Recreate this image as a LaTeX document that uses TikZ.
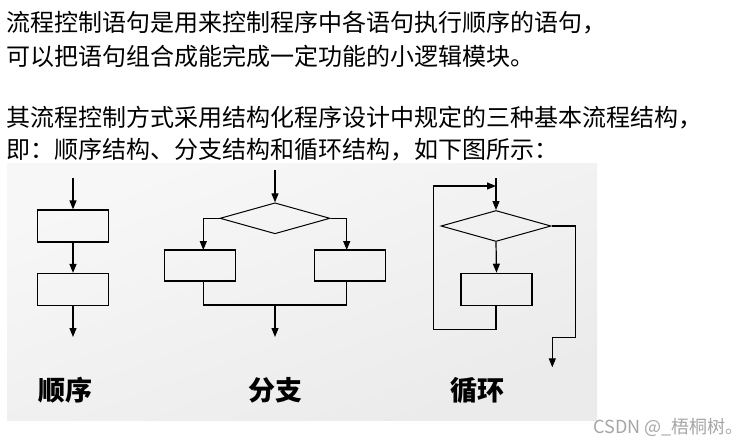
\documentclass[tikz,border=0pt]{standalone}
\usepackage{fontspec}
\setmainfont{Noto Sans CJK SC}
\usetikzlibrary{shapes.geometric,arrows.meta}
\begin{document}
\begin{tikzpicture}[x=1pt,y=-1pt,
  line width=1.2pt,
  arr/.style={-{Triangle[length=9pt,width=7pt]}},
  boxn/.style={draw,rectangle,minimum width=71pt,minimum height=32pt,inner sep=0pt},
  dia/.style={draw,diamond,minimum width=110pt,minimum height=31pt,inner sep=0pt,line width=1pt},
  para/.style={anchor=west,inner sep=0pt,font=\fontsize{24pt}{26pt}\selectfont},
  lab/.style={inner sep=0pt,font=\fontsize{27pt}{29pt}\selectfont\bfseries}]
\useasboundingbox (0,0) rectangle (752,444);
\fill[white] (0,0) rectangle (752,444);
\shade[top color=gray!6,bottom color=gray!16,shading angle=20] (7,163) rectangle (597,420);
% text
\node[para] (t1) at (6,23) {流程控制语句是用来控制程序中各语句执行顺序的语句，};
\node[para] (t2) at (6,56) {可以把语句组合成能完成一定功能的小逻辑模块。};
\node[para] (t3) at (6,118) {其流程控制方式采用结构化程序设计中规定的三种基本流程结构，};
\node[para] (t4) at (6,150) {即：顺序结构、分支结构和循环结构，如下图所示：};
% sequence
\coordinate (s0) at (73,178);
\node[boxn] (s1) at (73,226) {};
\node[boxn] (s2) at (73,289.5) {};
\coordinate (s3) at (73,337);
\draw[arr] (s0) -- (s1.north);
\draw[arr] (s1.south) -- (s2.north);
\draw[arr] (s2.south) -- (s3);
\node[lab] (ls) at (65,390) {顺序};
% branch
\coordinate (b0) at (275,170);
\node[dia] (bd) at (275,218.3) {};
\node[boxn,minimum height=31pt] (bl) at (200,265.5) {};
\node[boxn,minimum height=31pt] (br) at (350,265.5) {};
\coordinate (bxl) at (203.3,250);
\coordinate (bxr) at (346.7,250);
\coordinate (bm) at (275,305);
\coordinate (b3) at (275,337);
\draw[arr] (b0) -- (bd.north);
\draw[arr] (bd.west) -| (bxl);
\draw[arr] (bd.east) -| (bxr);
\draw (bl.south -| bxl) |- (bm) -| (br.south -| bxr);
\draw[arr] (bm) -- (b3);
\node[lab] (lb) at (275,390) {分支};
% loop
\coordinate (l0) at (496,178);
\node[dia] (ld) at (496,226) {};
\node[boxn] (lbx) at (496.5,289.3) {};
\coordinate (lj) at (496,186);
\coordinate (lbl) at (433.3,329.3);
\coordinate (lr) at (575.7,337.3);
\coordinate (lo) at (552.3,337.3);
\coordinate (l3) at (552.3,367.3);
\draw (l0) -- (lj);
\draw[arr] (lj) -- (ld.north);
\draw[arr] (ld.south) -- (lbx.north);
\draw[arr] (lbx.south -| lj) |- (lbl) |- (lj);
\draw (ld.east) -| (lr) -- (lo);
\draw[arr] (lo) -- (l3);
\node[lab] (ll) at (477,390) {循环};
% watermark
\node[anchor=west,inner sep=0pt,text=gray!70,font=\fontsize{18pt}{20pt}\selectfont] (wm) at (593,427) {CSDN @\_梧桐树。};
\end{tikzpicture}
\end{document}
